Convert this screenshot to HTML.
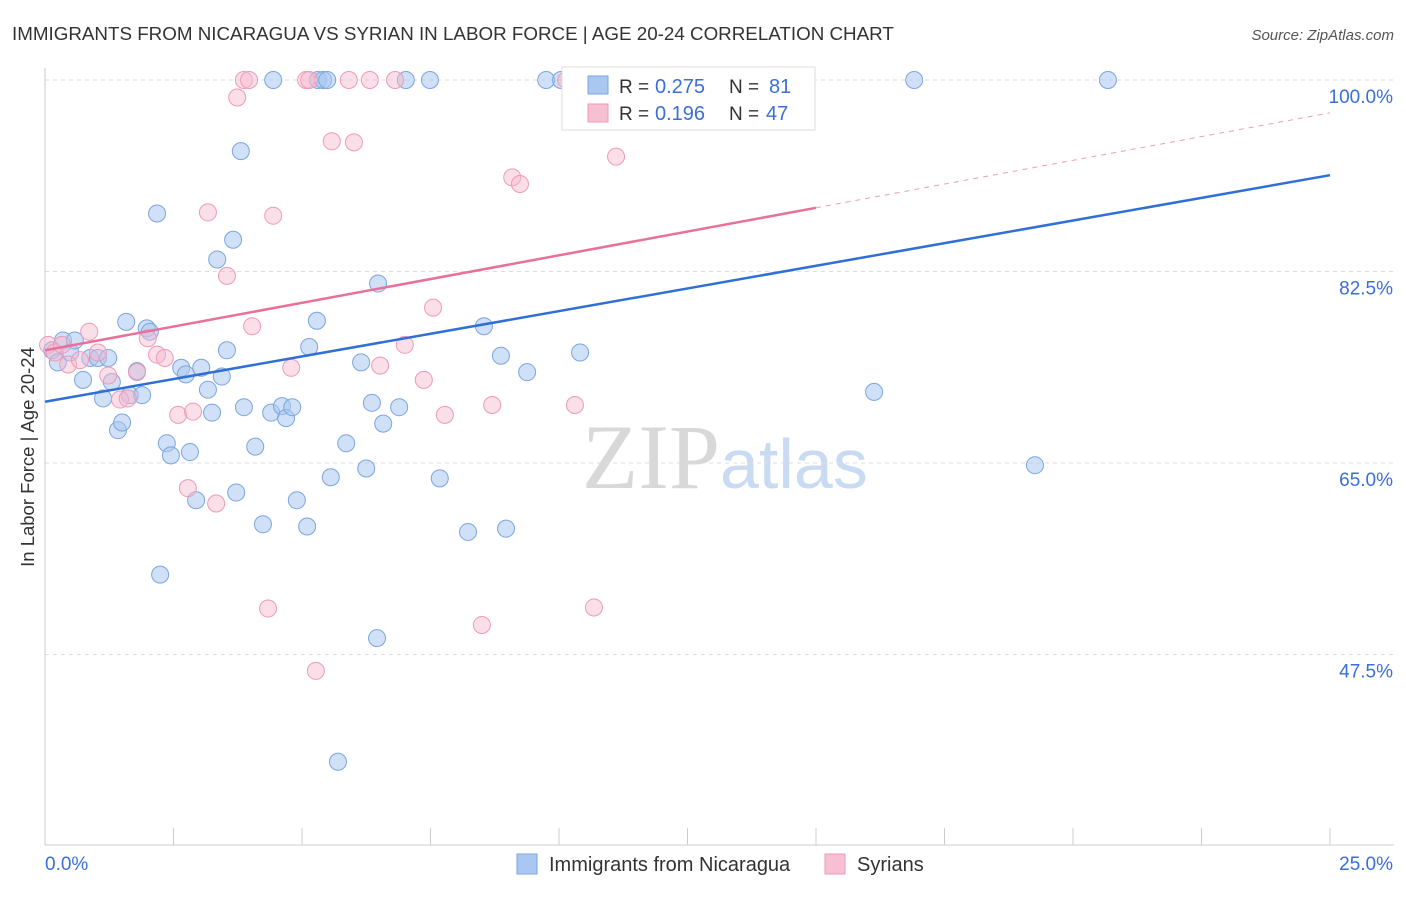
<!DOCTYPE html>
<html><head><meta charset="utf-8"><style>
body{margin:0;background:#fff;font-family:"Liberation Sans",sans-serif}
</style></head><body>
<svg id="c" width="1406" height="892" xmlns="http://www.w3.org/2000/svg">
<text x="12" y="40" font-size="18.8" fill="#333">IMMIGRANTS FROM NICARAGUA VS SYRIAN IN LABOR FORCE | AGE 20-24 CORRELATION CHART</text>
<text x="1394" y="40" font-size="15" fill="#555" text-anchor="end" font-style="italic">Source: ZipAtlas.com</text>
<text x="720" y="488" font-size="92" fill="#d8d8d8" text-anchor="end" font-family="Liberation Serif">ZIP</text>
<text x="720" y="488" font-size="70" fill="#c9dbf2">atlas</text>
<g id="grid"></g><g id="axes"></g><g id="pts"></g><g id="lines"></g>
<g>
<rect x="562" y="67" width="253" height="63" fill="#fff" stroke="#ddd"/>
<rect x="588" y="76" width="20" height="18" fill="#a9c7f0" stroke="#7aa5e0"/>
<rect x="588" y="104" width="20" height="18" fill="#f6c0d2" stroke="#ee9ab5"/>
<text x="619" y="93" font-size="19" fill="#333">R =</text><text x="655" y="93" font-size="20" fill="#3a6fd8">0.275</text>
<text x="729" y="93" font-size="19" fill="#333">N =</text><text x="769" y="93" font-size="20" fill="#3a6fd8">81</text>
<text x="619" y="120" font-size="19" fill="#333">R =</text><text x="655" y="120" font-size="20" fill="#3a6fd8">0.196</text>
<text x="729" y="120" font-size="19" fill="#333">N =</text><text x="766" y="120" font-size="20" fill="#3a6fd8">47</text>
</g>
<g>
<rect x="517" y="854" width="20" height="20" fill="#a9c7f0" stroke="#7aa5e0"/>
<text x="549" y="871" font-size="20" fill="#333">Immigrants from Nicaragua</text>
<rect x="825" y="854" width="20" height="20" fill="#f6c0d2" stroke="#ee9ab5"/>
<text x="857" y="871" font-size="20" fill="#333">Syrians</text>
</g>
</svg>
<script>
const blueX=[0.14,0.25,0.35,0.49,0.58,0.74,0.88,1.03,1.13,1.23,1.30,1.42,1.50,1.58,1.65,1.79,1.89,1.98,2.04,2.18,2.24,2.37,2.45,2.65,2.74,2.82,2.94,3.04,3.17,3.25,3.35,3.44,3.54,3.66,3.72,3.81,3.87,4.09,4.24,4.40,4.44,4.61,4.69,4.81,4.90,5.10,5.14,5.29,5.31,5.41,5.49,5.56,5.70,5.86,6.15,6.25,6.36,6.46,6.48,6.58,6.89,7.02,7.49,7.68,8.23,8.54,8.87,8.97,9.38,9.75,10.04,10.41,16.13,16.91,19.26,20.68];
const blueY=[75.3,74.2,76.2,75.1,76.2,72.6,74.6,74.6,70.9,74.6,72.4,68.0,68.7,77.9,71.2,73.4,71.2,77.3,77.0,87.8,54.8,66.8,65.7,73.7,73.1,66.0,61.6,73.7,71.7,69.6,83.6,72.9,75.3,85.4,62.3,93.5,70.1,66.5,59.4,69.6,100,70.2,69.1,70.1,61.6,59.2,75.6,78.0,100,100,100,63.7,37.7,66.8,74.2,64.5,70.5,49.0,81.4,68.6,70.1,100,100,63.6,58.7,77.5,74.8,59.0,73.3,100,100,75.1,71.5,100,64.8,100];
const pinkX=[0.06,0.19,0.33,0.45,0.68,0.86,1.03,1.23,1.46,1.61,1.79,2.00,2.18,2.33,2.59,2.78,2.88,3.17,3.33,3.54,3.74,3.87,3.97,4.03,4.34,4.44,4.79,5.08,5.14,5.27,5.58,5.91,6.01,6.32,6.52,6.81,7.00,7.37,7.55,7.78,8.50,8.70,9.09,9.24,10.14,10.31,10.68,11.11];
const pinkY=[75.8,75.1,75.8,74.0,74.4,77.0,75.1,73.0,70.8,70.9,73.3,76.4,74.9,74.6,69.4,62.7,69.7,87.9,61.3,82.1,98.4,100,100,77.5,51.7,87.6,73.7,100,100,46.0,94.4,100,94.3,100,73.9,100,75.8,72.6,79.2,69.4,50.2,70.3,91.1,90.5,100,70.3,51.8,93.0];
const blueFit=[70.6,91.3];
const pinkFit=[75.3,97.0];
const yTicks=[100,82.5,65,47.5];
const yTickLabels=["100.0%","82.5%","65.0%","47.5%"];
const NS="http://www.w3.org/2000/svg";
const X=v=>45+v/25*1285, Y=v=>80+(100-v)*10.943;
function mk(t,a,p){const e=document.createElementNS(NS,t);for(const k in a)e.setAttribute(k,a[k]);document.getElementById(p).appendChild(e);return e;}
yTicks.forEach((t,i)=>{
 const g=mk('line',{x1:45,x2:1394,y1:Y(t),y2:Y(t),stroke:'#ddd','stroke-dasharray':'4,4'},'grid');
 
 
 const l=mk('text',{x:1393,y:Y(t)+23,'font-size':19,fill:'#3a6fd8','text-anchor':'end'},'axes');
 l.textContent=yTickLabels[i];
 
 
});
let ax=mk('line',{x1:45,x2:45,y1:68,y2:845,stroke:'#ccc'},'axes');


ax=mk('line',{x1:45,x2:1394,y1:845,y2:845,stroke:'#ccc'},'axes');


for(let i=0;i<=10;i++){const t=mk('line',{x1:X(i*2.5),x2:X(i*2.5),y1:828,y2:845,stroke:'#ccc'},'axes');
 
 }
let xl=mk('text',{x:45,y:870,'font-size':19,fill:'#3a6fd8'},'axes');xl.textContent='0.0%';


xl=mk('text',{x:1393,y:870,'font-size':19,fill:'#3a6fd8','text-anchor':'end'},'axes');xl.textContent='25.0%';


let yt=mk('text',{x:34,y:457,'font-size':18.5,fill:'#333','text-anchor':'middle',transform:'rotate(-90 34 457)'},'axes');yt.textContent='In Labor Force | Age 20-24';


blueX.forEach((x,i)=>{const c=mk('circle',{cx:X(x),cy:Y(blueY[i]),r:8.5,fill:'rgba(169,199,240,0.55)',stroke:'#7aa5e0','stroke-width':1},'pts');
 
 });
pinkX.forEach((x,i)=>{const c=mk('circle',{cx:X(x),cy:Y(pinkY[i]),r:8.5,fill:'rgba(246,184,204,0.45)',stroke:'#ee9ab5','stroke-width':1},'pts');
 
 });
const pv=x=>pinkFit[0]+(pinkFit[1]-pinkFit[0])*x/25;
let ln=mk('line',{x1:X(0),y1:Y(blueFit[0]),x2:X(25),y2:Y(blueFit[1]),stroke:'#2f6fd6','stroke-width':2.5},'lines');


ln=mk('line',{x1:X(0),y1:Y(pv(0)),x2:X(15),y2:Y(pv(15)),stroke:'#e8709a','stroke-width':2.5},'lines');


ln=mk('line',{x1:X(15),y1:Y(pv(15)),x2:X(25),y2:Y(pv(25)),stroke:'#e8a0b8','stroke-width':1,'stroke-dasharray':'5,5'},'lines');


</script>
</body></html>
